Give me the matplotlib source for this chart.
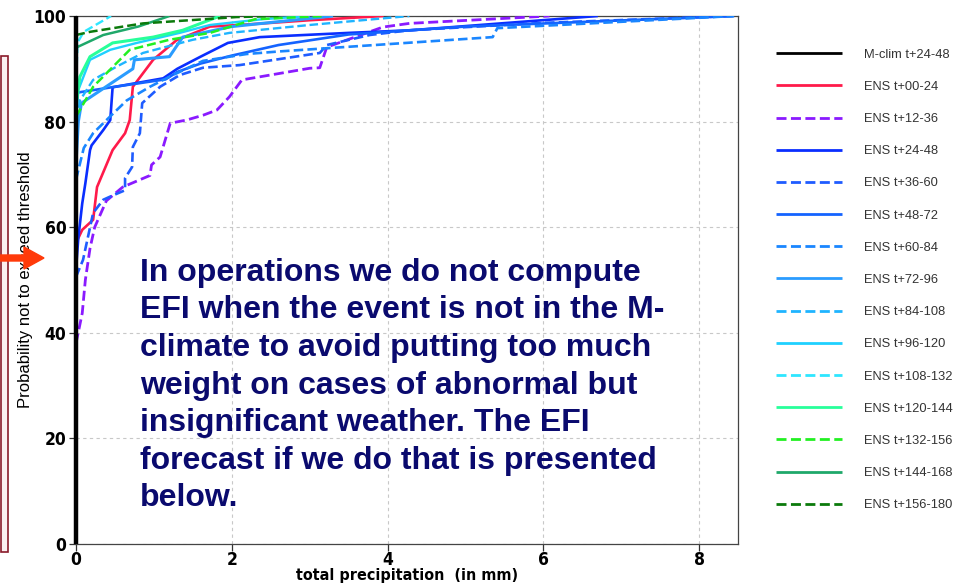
import matplotlib
matplotlib.use("Agg")
import matplotlib.pyplot as plt
from matplotlib.patches import Rectangle, FancyArrow
from matplotlib.lines import Line2D

# ---- data: cumulative distributions of total precipitation (mm) vs probability (%) ----
mclim_x = [0, 0]
mclim_y = [0, 100]

ens_00_24_x = [0, 0, 0.08, 0.22, 0.27, 0.47, 0.63, 0.69, 0.73, 0.99, 1.29, 1.72, 2.1, 3.0, 3.95]
ens_00_24_y = [53, 57, 59.5, 61.4, 67.6, 74.6, 77.8, 80.3, 86.6, 91.7, 95.4, 98, 98.3, 99.2, 100]

ens_12_36_x = [0, 0.08, 0.12, 0.18, 0.24, 0.39, 0.6, 0.95, 0.97, 1.08, 1.21, 1.42, 1.63, 1.81,
               1.97, 2.13, 3.0, 3.13, 3.22, 3.94, 4.28, 6.08]
ens_12_36_y = [38, 43.7, 50, 56, 60, 65, 67.6, 69.8, 71.8, 73.3, 79.7, 80.3, 81.2, 82.2,
               84.7, 87.9, 90.1, 90.2, 94.1, 97.9, 98.6, 100]

ens_24_48_x = [0, 0.03, 0.08, 0.12, 0.18, 0.2, 0.35, 0.44, 0.47, 1.12, 1.3, 1.6, 1.95, 2.36,
               3.5, 4.3, 6.7]
ens_24_48_y = [52, 58, 64.5, 68.3, 74.6, 75.5, 78.4, 80.3, 86.5, 88.2, 90, 92.3, 94.9, 96,
               96.8, 97.3, 100]

ens_36_60_x = [0, 0.09, 0.22, 0.35, 0.47, 0.63, 0.63, 0.72, 0.73, 0.82, 0.85, 1.08, 1.33, 1.63,
               2.1, 3.13, 3.22, 3.77, 4.28, 6.0, 8.45]
ens_36_60_y = [50.6, 53.8, 62.7, 65.2, 66, 67, 69.3, 71.4, 75.2, 77.8, 83.5, 86.6, 88.8, 90.2,
               90.7, 93, 94.5, 96.4, 97.3, 98.7, 100]

ens_48_72_x = [0, 0.02, 0.5, 1.15, 1.3, 1.6, 2.0, 2.6, 3.5, 5.0, 8.45]
ens_48_72_y = [83, 85.5, 86.6, 88, 89.4, 91, 92.5, 94.5, 96.5, 98, 100]

ens_60_84_x = [0, 0.1, 0.22, 0.44, 0.65, 0.95, 1.2, 1.63, 2.19, 2.62, 5.35, 5.41, 8.45]
ens_60_84_y = [69, 75, 77.8, 81, 84, 86.6, 88.5, 91.5, 92.8, 93.3, 96, 97.7, 100]

ens_72_96_x = [0, 0.03, 0.07, 0.73, 0.75, 1.2, 1.37, 2.0, 3.3]
ens_72_96_y = [72, 80, 83.5, 90, 91.7, 92.3, 96, 98, 100]

ens_84_108_x = [0, 0.05, 0.22, 0.52, 0.86, 1.5, 1.97, 3.0, 4.28]
ens_84_108_y = [78, 84, 87.9, 90.4, 93, 95.5, 96.8, 98.3, 100]

ens_96_120_x = [0, 0.03, 0.18, 0.44, 0.78, 1.33, 1.72, 2.4, 3.0]
ens_96_120_y = [80, 86, 91.7, 93.6, 94.9, 96.8, 98.3, 99.4, 100]

ens_108_132_x = [0, 0.02, 0.1, 0.45]
ens_108_132_y = [86, 95, 97, 100]

ens_120_144_x = [0, 0.05, 0.18, 0.47, 0.99, 1.37, 1.85]
ens_120_144_y = [83, 88.5, 92.3, 94.9, 96, 97.3, 100]

ens_132_156_x = [0, 0.05, 0.22, 0.69, 1.2, 1.72, 2.3, 3.2]
ens_132_156_y = [81, 82.2, 86.6, 93.6, 95.5, 96.8, 99.4, 100]

ens_144_168_x = [0, 0.35, 0.8, 1.2]
ens_144_168_y = [94, 96.4, 98, 100]

ens_156_180_x = [0, 0.18, 0.86, 2.06, 2.6]
ens_156_180_y = [96.4, 97, 98.6, 99.8, 100]

labels = ["M-clim t+24-48", "ENS t+00-24", "ENS t+12-36", "ENS t+24-48", "ENS t+36-60",
          "ENS t+48-72", "ENS t+60-84", "ENS t+72-96", "ENS t+84-108", "ENS t+96-120",
          "ENS t+108-132", "ENS t+120-144", "ENS t+132-156", "ENS t+144-168", "ENS t+156-180"]

x_ticks = [0, 2, 4, 6, 8]
y_ticks = [0, 20, 40, 60, 80, 100]

note = ("In operations we do not compute\n"
        "EFI when the event is not in the M-\n"
        "climate to avoid putting too much\n"
        "weight on cases of abnormal but\n"
        "insignificant weather. The EFI\n"
        "forecast if we do that is presented\n"
        "below.")

series = [
    (mclim_x, mclim_y, "#000000", "-", 3.2),
    (ens_00_24_x, ens_00_24_y, "#ff1a4a", "-", 1.9),
    (ens_12_36_x, ens_12_36_y, "#8a1aff", "--", 2.0),
    (ens_24_48_x, ens_24_48_y, "#0a2eff", "-", 1.9),
    (ens_36_60_x, ens_36_60_y, "#1f5cff", "--", 1.9),
    (ens_48_72_x, ens_48_72_y, "#1463ff", "-", 1.9),
    (ens_60_84_x, ens_60_84_y, "#1a86ff", "--", 1.9),
    (ens_72_96_x, ens_72_96_y, "#2a9cff", "-", 2.2),
    (ens_84_108_x, ens_84_108_y, "#1fb4ff", "--", 1.7),
    (ens_96_120_x, ens_96_120_y, "#1fd0ff", "-", 1.7),
    (ens_108_132_x, ens_108_132_y, "#2ee6ff", "--", 1.7),
    (ens_120_144_x, ens_120_144_y, "#28ff9a", "-", 2.2),
    (ens_132_156_x, ens_132_156_y, "#22f022", "--", 1.8),
    (ens_144_168_x, ens_144_168_y, "#1fa86a", "-", 1.8),
    (ens_156_180_x, ens_156_180_y, "#0b7a0b", "--", 1.8),
]

W, H = 959, 584
fig = plt.figure(figsize=(W / 100, H / 100), dpi=100)
ax = fig.add_axes([76 / W, (H - 544) / H, (738 - 76) / W, (544 - 16) / H])

sans = ["Liberation Sans", "DejaVu Sans"]
cond = dict(family="DejaVu Sans", fontstretch="condensed", fontweight="bold")

handles = []
for i, (xs, ys, col, ls, lw) in enumerate(series):
    kw = dict(color=col, linestyle=ls, linewidth=lw, solid_capstyle="butt")
    if ls == "--":
        kw["dashes"] = (3.6, 1.6)
    line, = ax.plot(xs, ys, zorder=3 + i * 0.01, clip_on=(i != 0), **kw)
    if i == 0:
        line.set_zorder(5)
    handles.append(Line2D([], [], **{**kw, "linewidth": 2.0}))

ax.set_xlim(0, 8.5)
ax.set_ylim(0, 100)
ax.set_xticks(x_ticks)
ax.set_yticks(y_ticks)
ax.grid(True, linestyle=(0, (3, 3)), color="#c8c8c8", linewidth=0.8)
ax.set_axisbelow(True)
for side in ["top", "right", "bottom", "left"]:
    ax.spines[side].set_color("#444444")
    ax.spines[side].set_linewidth(0.9)
ax.tick_params(direction="out", length=5, width=0.9, color="#333333", pad=2)
ax.tick_params(axis="x", pad=0)
for t in ax.get_xticklabels() + ax.get_yticklabels():
    t.set_family("DejaVu Sans")
    t.set_fontstretch("condensed")
    t.set_fontweight("bold")
    t.set_fontsize(12.5)
ax.set_xlabel("total precipitation  (in mm)", fontsize=11.5, labelpad=-0.5, **cond)
ax.set_ylabel("Probability not to exceed threshold", family=sans, fontsize=12)
ax.yaxis.set_label_coords(-0.065, 0.5)

leg = fig.legend(handles, labels, loc="upper left", bbox_to_anchor=(764 / W, 1 - 37 / H),
                 frameon=False, handlelength=5.1, handletextpad=1.75, labelspacing=1.56,
                 prop={"family": sans, "size": 9.3})
for t in leg.get_texts():
    t.set_color("#333333")

ax.text(0.097, 0.542, note, transform=ax.transAxes, family=sans, fontweight="bold",
        fontsize=23, color="#0a0a6e", va="top", ha="left", linespacing=1.33, zorder=10)

# leftover slide frame on the left edge
fig.patches.append(Rectangle((1 / W, (H - 552) / H), 7 / W, (552 - 56) / H,
                             transform=fig.transFigure, facecolor="#fbeff0",
                             edgecolor="#8a1a2a", linewidth=1.2, zorder=1))
# red pointer arrow
fig.patches.append(FancyArrow(0, 1 - 258 / H, 44 / W, 0, width=6 / H, head_width=22 / H,
                              head_length=20 / W, length_includes_head=True,
                              transform=fig.transFigure, color="#ff3a0a", zorder=20))

fig.savefig("out.png", dpi=100)
